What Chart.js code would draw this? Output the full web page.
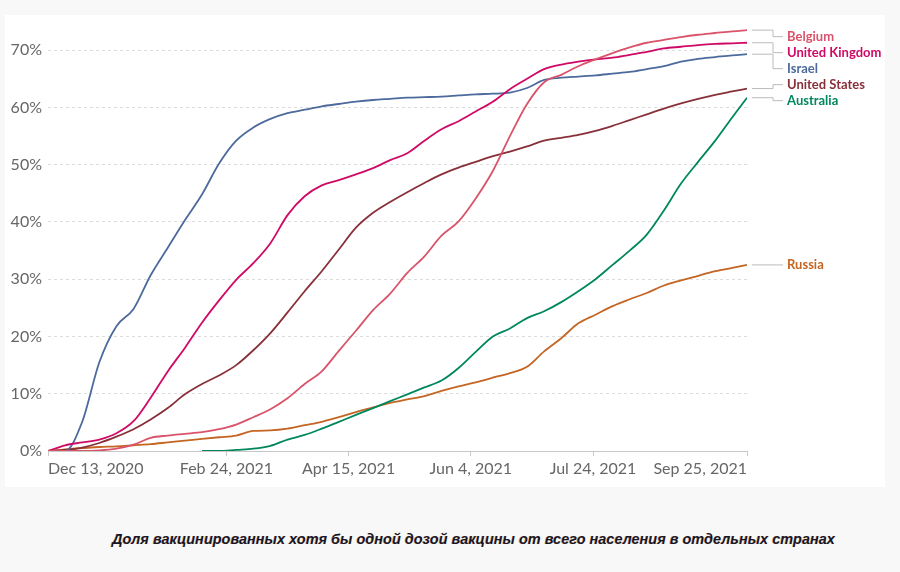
<!DOCTYPE html>
<html>
<head>
<meta charset="utf-8">
<script src="https://cdn.jsdelivr.net/npm/chart.js@4.4.0/dist/chart.umd.min.js"></script>
<style>
  html, body { margin: 0; padding: 0; }
  body { width: 900px; height: 572px; background: #f8f8f8; position: relative; overflow: hidden; }
  #card { position: absolute; left: 5px; top: 15px; width: 880px; height: 472px; background: #fff; }
  #caption {
    position: absolute; left: 112px; top: 531px;
    font: italic bold 14.5px "Liberation Sans", Arial, sans-serif;
    color: #16162a; white-space: nowrap;
    text-shadow: -0.6px 0.4px 0 rgba(214, 130, 40, 0.5);
  }
</style>
</head>
<body>
<div id="card"><canvas id="chart"></canvas></div>
<div id="caption">Доля вакцинированных хотя бы одной дозой вакцины от всего населения в отдельных странах</div>
<script>
// дни от 13.12.2020, шаг неделя
const days = [0, 7, 14, 21, 28, 35, 42, 49, 56, 63, 70, 77, 84, 91, 98, 105, 112, 119, 126, 133, 140,
  147, 154, 161, 168, 175, 182, 189, 196, 203, 210, 217, 224, 231, 238, 245, 252, 259, 266, 273, 280, 286];
const tickDays = [0, 73, 123, 173, 223, 286];
const tickLabels = ['Dec 13, 2020', 'Feb 24, 2021', 'Apr 15, 2021', 'Jun 4, 2021', 'Jul 24, 2021', 'Sep 25, 2021'];
const yTicks = [0, 10, 20, 30, 40, 50, 60, 70];

const countries = ['Belgium', 'United Kingdom', 'Israel', 'United States', 'Australia', 'Russia'];
const colors = ['#d9536a', '#cf0a66', '#4c6a9c', '#883039', '#00875e', '#c46523'];

// % населения, получившего хотя бы одну дозу
const belgium = [0, 0, 0, 0.1, 0.4, 1.1, 2.3, 2.7, 3.0, 3.3, 3.8, 4.6, 5.9, 7.3, 9.2, 11.7, 13.9, 17.5, 21.0, 24.6, 27.5,
  31.1, 34.0, 37.6, 40.1, 44.1, 48.9, 55.0, 60.6, 64.4, 65.7, 67.2, 68.4, 69.5, 70.5, 71.3, 71.8, 72.3, 72.7, 73.0, 73.3, 73.5];
const uk = [0, 1.0, 1.5, 2.0, 3.1, 5.2, 9.3, 13.9, 18.0, 22.4, 26.3, 29.9, 32.8, 36.3, 41.2, 44.5, 46.4, 47.3, 48.3, 49.4, 50.8,
  52.0, 54.2, 56.2, 57.6, 59.3, 61.0, 63.2, 65.0, 66.7, 67.5, 68.0, 68.4, 68.7, 69.2, 69.7, 70.3, 70.6, 70.9, 71.1, 71.2, 71.3];
const israel = [0, 0, 5.1, 15.5, 21.8, 24.8, 30.7, 35.5, 40.3, 44.8, 50.2, 54.2, 56.5, 58.0, 59.0, 59.6, 60.2, 60.6, 61.0, 61.3, 61.5,
  61.7, 61.8, 61.9, 62.1, 62.3, 62.4, 62.6, 63.4, 64.8, 65.2, 65.4, 65.6, 65.9, 66.2, 66.7, 67.2, 68.0, 68.5, 68.8, 69.1, 69.3];
const usa = [0, 0.2, 0.6, 1.4, 2.5, 3.8, 5.5, 7.5, 9.9, 11.7, 13.2, 15.0, 17.6, 20.6, 24.2, 27.9, 31.4, 35.2, 39.0, 41.6, 43.5,
  45.2, 46.8, 48.3, 49.5, 50.5, 51.5, 52.3, 53.2, 54.2, 54.7, 55.2, 55.9, 56.8, 57.8, 58.8, 59.8, 60.7, 61.5, 62.2, 62.8, 63.3];
const australia = [null, null, null, null, null, null, null, null, null, 0, 0, 0.2, 0.4, 0.9, 2.0, 2.8, 3.9, 5.1, 6.3, 7.5, 8.7,
  9.9, 11.1, 12.3, 14.5, 17.3, 20.0, 21.4, 23.2, 24.4, 26.0, 27.9, 30.0, 32.5, 35.0, 37.8, 42.0, 46.7, 50.5, 54.2, 58.3, 61.7];
const russia = [0, 0.3, 0.5, 0.7, 0.8, 1.0, 1.2, 1.5, 1.8, 2.1, 2.4, 2.7, 3.5, 3.6, 3.9, 4.5, 5.1, 5.9, 6.8, 7.6, 8.4,
  9.0, 9.6, 10.5, 11.3, 12.0, 12.8, 13.6, 14.7, 17.4, 19.7, 22.3, 23.8, 25.3, 26.5, 27.6, 28.9, 29.8, 30.6, 31.4, 32.0, 32.5];

const series = [belgium, uk, israel, usa, australia, russia];

// подписи стран справа, с выносками
const endLabels = {
  id: 'endLabels',
  afterDatasetsDraw(chart) {
    const ctx = chart.ctx;
    const gap = 16;
    const items = chart.data.datasets.map((ds, i) => {
      const pts = chart.getDatasetMeta(i).data;
      const p = pts[pts.length - 1];
      return { name: ds.label, color: ds.borderColor, x: p.x, y: p.y };
    }).sort((a, b) => a.y - b.y);

    // склеиваем близкие подписи в группы
    let groups = items.map(it => ({ items: [it], center: it.y }));
    let merged = true;
    while (merged) {
      merged = false;
      for (let i = 0; i < groups.length - 1; i++) {
        const a = groups[i], b = groups[i + 1];
        const aBottom = a.center + (a.items.length - 1) * gap / 2;
        const bTop = b.center - (b.items.length - 1) * gap / 2;
        if (bTop - aBottom < gap * 1.7) {
          const all = a.items.concat(b.items);
          const c = all.reduce((s, it) => s + it.y, 0) / all.length;
          groups.splice(i, 2, { items: all, center: c });
          merged = true;
          break;
        }
      }
    }

    const right = chart.chartArea.right;
    const textX = right + 40;
    const elbowX = right + 26;
    ctx.save();
    ctx.font = 'bold 13px Lato';
    ctx.textBaseline = 'middle';
    groups.forEach(g => {
      const n = g.items.length;
      const shift = n > 1 ? 6 : 0;
      g.items.forEach((it, k) => {
        const ly = g.center + shift + (k - (n - 1) / 2) * gap;
        ctx.strokeStyle = '#bbbbbb';
        ctx.lineWidth = 1;
        ctx.beginPath();
        ctx.moveTo(it.x + 5, it.y);
        ctx.lineTo(elbowX, it.y);
        ctx.lineTo(elbowX, ly);
        ctx.lineTo(textX - 4, ly);
        ctx.stroke();
        ctx.fillStyle = it.color;
        ctx.fillText(it.name, textX, ly);
      });
    });
    ctx.restore();
  }
};

const ctx = document.getElementById('chart').getContext('2d');
const chart = new Chart(ctx, {
  type: 'line',
  data: {
    datasets: countries.map((name, i) => ({
      label: name,
      data: days.map((d, j) => ({ x: d, y: series[i][j] })),
      borderColor: colors[i],
      backgroundColor: colors[i],
      borderWidth: 1.8,
      pointRadius: 0,
      cubicInterpolationMode: 'monotone',
      spanGaps: false
    }))
  },
  options: {
    responsive: true,
    maintainAspectRatio: false,
    animation: false,
    layout: { padding: { left: 0, right: 138, top: 10, bottom: 0 } },
    plugins: {
      legend: { display: false },
      tooltip: { enabled: false }
    },
    scales: {
      x: {
        type: 'linear',
        min: 0,
        max: 286,
        afterBuildTicks: scale => { scale.ticks = tickDays.map(v => ({ value: v })); },
        afterFit: scale => { scale.height = 36; },
        ticks: {
          align: 'inner',
          maxRotation: 0,
          autoSkip: false,
          padding: 3,
          color: '#666',
          font: { family: 'Lato', size: 16 },
          callback: (v, i) => tickLabels[i]
        },
        grid: { drawOnChartArea: false, drawTicks: true, tickLength: 5, color: '#c8c8c8' },
        border: { display: true, color: '#c8c8c8', width: 1 }
      },
      y: {
        min: 0,
        max: 74.4,
        afterBuildTicks: scale => { scale.ticks = yTicks.map(v => ({ value: v })); },
        afterFit: scale => {
          scale.width = 43;
          scale.paddingTop = 0;
          scale.paddingBottom = 0;
        },
        ticks: {
          padding: 6,
          color: '#666',
          font: { family: 'Lato', size: 16 },
          callback: v => v + '%'
        },
        grid: { color: '#dddddd', drawTicks: false },
        border: { display: false, dash: [3, 3] }
      }
    }
  },
  plugins: [endLabels]
});
</script>
</body>
</html>
